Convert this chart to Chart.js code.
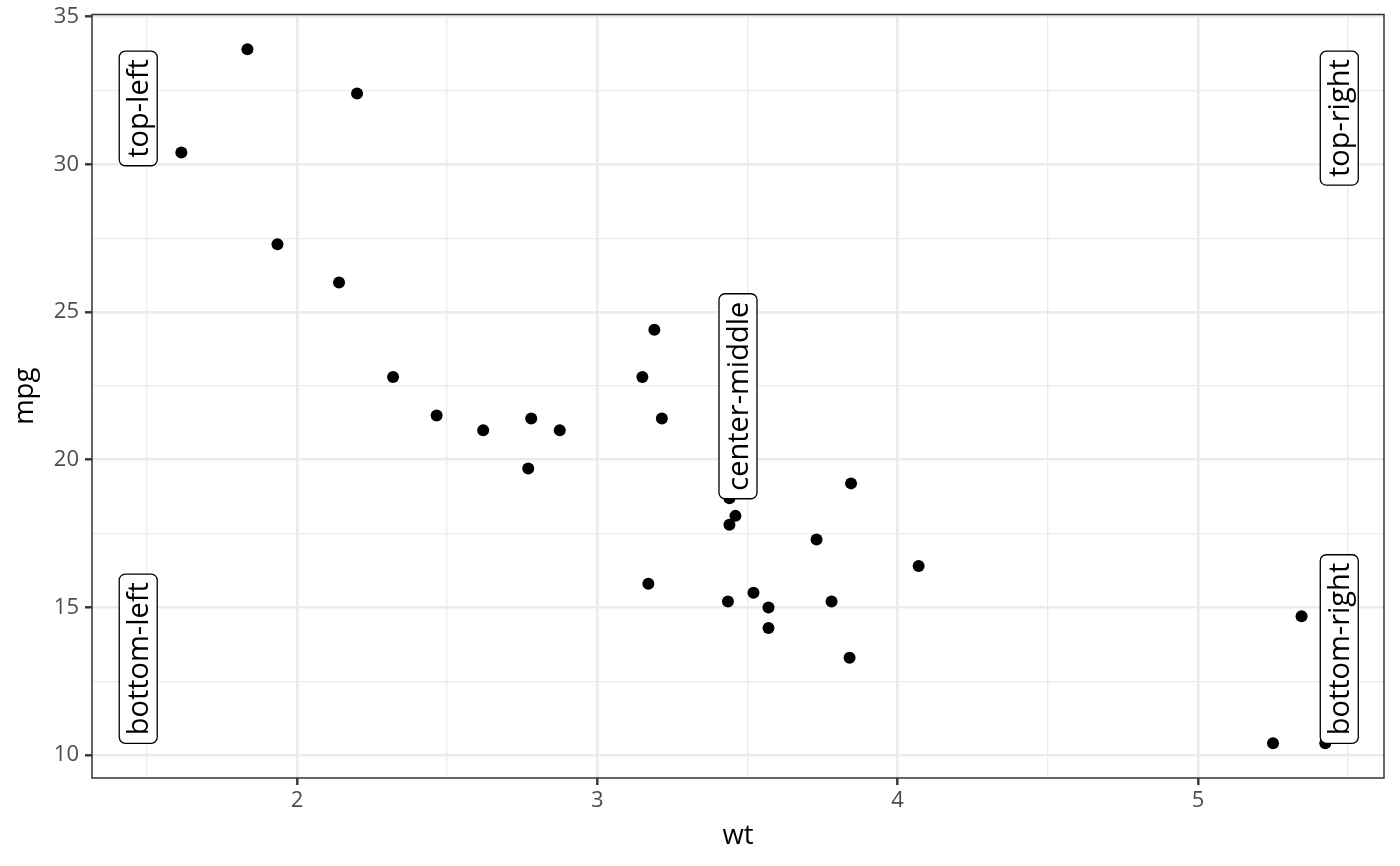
<!DOCTYPE html>
<html>
<head>
<meta charset="utf-8">
<script src="https://cdn.jsdelivr.net/npm/chart.js@4.4.1/dist/chart.umd.min.js"></script>
<style>
  html, body { margin: 0; padding: 0; background: #fff; }
</style>
</head>
<body>
<canvas id="chart" width="1400" height="866"></canvas>
<script>
// mtcars: weight (1000 lbs) and miles per gallon
const wt = [2.620, 2.875, 2.320, 3.215, 3.440, 3.460, 3.570, 3.190, 3.150, 3.440, 3.440,
            4.070, 3.730, 3.780, 5.250, 5.424, 5.345, 2.200, 1.615, 1.835, 2.465, 3.520,
            3.435, 3.840, 3.845, 1.935, 2.140, 1.513, 3.170, 2.770, 3.570, 2.780];
const mpg = [21.0, 21.0, 22.8, 21.4, 18.7, 18.1, 14.3, 24.4, 22.8, 19.2, 17.8,
             16.4, 17.3, 15.2, 10.4, 10.4, 14.7, 32.4, 30.4, 33.9, 21.5, 15.5,
             15.2, 13.3, 19.2, 27.3, 26.0, 30.4, 15.8, 19.7, 15.0, 21.4];

const xMajorTicks = [2, 3, 4, 5];
const xMinorTicks = [1.5, 2.5, 3.5, 4.5, 5.5];
const yMajorTicks = [10, 15, 20, 25, 30, 35];
const yMinorTicks = [12.5, 17.5, 22.5, 27.5, 32.5];

const labelTexts = ['top-left', 'top-right', 'bottom-left', 'bottom-right', 'center-middle'];
const labelH = ['left', 'right', 'left', 'right', 'center'];
const labelV = ['top', 'top', 'bottom', 'bottom', 'middle'];

// ggplot style 5% expansion
function expand(vals) {
    const lo = Math.min(...vals), hi = Math.max(...vals);
    const d = (hi - lo) * 0.05;
    return [lo - d, hi + d];
}
const [xMin, xMax] = expand(wt);
const [yMin, yMax] = expand(mpg);

function gridOpts(major) {
    return {
        color: '#ebebeb',
        lineWidth: c => major.includes(c.tick.value) ? 2.6 : 1.3,
        tickLength: 7,
        tickWidth: 2.4,
        tickColor: c => major.includes(c.tick.value) ? '#333333' : 'rgba(0,0,0,0)'
    };
}

const labelPlugin = {
    id: 'labels',
    afterDatasetsDraw(chart) {
        const { ctx, chartArea, scales: { x, y } } = chart;
        const xs = { left: Math.min(...wt), right: Math.max(...wt) };
        xs.center = (xs.left + xs.right) / 2;
        const ys = { bottom: Math.min(...mpg), top: Math.max(...mpg) };
        ys.middle = (ys.bottom + ys.top) / 2;

        ctx.save();
        ctx.font = '29px "Open Sans"';
        const thick = 38, pad = 8;
        labelTexts.forEach((text, i) => {
            const len = ctx.measureText(text).width + pad * 2;
            const px = x.getPixelForValue(xs[labelH[i]]);
            const py = y.getPixelForValue(ys[labelV[i]]);
            let left, top;
            if (labelH[i] === 'left') left = px + 6.5 - thick;
            else if (labelH[i] === 'right') left = px - 5;
            else left = px - thick / 2;
            if (labelV[i] === 'top') top = py + 2;
            else if (labelV[i] === 'bottom') top = py - len;
            else top = py - len / 2;

            ctx.beginPath();
            ctx.roundRect(left, top, thick, len, 6);
            ctx.fillStyle = '#ffffff';
            ctx.fill();
            ctx.lineWidth = 1.3;
            ctx.strokeStyle = '#000000';
            ctx.stroke();

            ctx.save();
            ctx.translate(left + thick / 2, top + len / 2);
            ctx.rotate(-Math.PI / 2);
            ctx.fillStyle = '#000000';
            ctx.textAlign = 'center';
            ctx.textBaseline = 'alphabetic';
            ctx.fillText(text, 0, 10);
            ctx.restore();
        });

        // panel border
        ctx.strokeStyle = '#333333';
        ctx.lineWidth = 1.5;
        ctx.strokeRect(chartArea.left, chartArea.top,
                       chartArea.right - chartArea.left, chartArea.bottom - chartArea.top);
        ctx.restore();
    }
};

const chart = new Chart(document.getElementById('chart').getContext('2d'), {
    type: 'scatter',
    data: {
        datasets: [{
            data: wt.map((w, i) => ({ x: w, y: mpg[i] })),
            backgroundColor: '#000000',
            borderWidth: 0,
            pointRadius: 6,
            pointHoverRadius: 6
        }]
    },
    options: {
        responsive: false,
        animation: false,
        events: [],
        layout: { padding: { left: 0, top: 14.5, right: 16, bottom: 0 } },
        plugins: { legend: { display: false }, tooltip: { enabled: false } },
        scales: {
            x: {
                type: 'linear',
                min: xMin,
                max: xMax,
                afterBuildTicks: s => { s.ticks = [...xMajorTicks, ...xMinorTicks].sort((a, b) => a - b).map(v => ({ value: v })); },
                afterFit: s => { s.height = 88; s.paddingLeft = 0; s.paddingRight = 0; },
                ticks: {
                    autoSkip: false,
                    maxRotation: 0,
                    padding: 3,
                    color: '#4d4d4d',
                    font: { family: '"Open Sans"', size: 22 },
                    callback: v => xMajorTicks.includes(v) ? String(v) : ''
                },
                grid: gridOpts(xMajorTicks),
                border: { display: false },
                title: {
                    display: true,
                    text: 'wt',
                    color: '#000000',
                    font: { family: '"Open Sans"', size: 27.5 },
                    padding: { top: 0, bottom: 13 }
                }
            },
            y: {
                type: 'linear',
                min: yMin,
                max: yMax,
                afterBuildTicks: s => { s.ticks = [...yMajorTicks, ...yMinorTicks].sort((a, b) => a - b).map(v => ({ value: v })); },
                afterFit: s => { s.width = 92; s.paddingTop = 0; s.paddingBottom = 0; },
                ticks: {
                    autoSkip: false,
                    padding: 6,
                    color: '#4d4d4d',
                    font: { family: '"Open Sans"', size: 22 },
                    callback: v => yMajorTicks.includes(v) ? String(v) : ''
                },
                grid: gridOpts(yMajorTicks),
                border: { display: false },
                title: {
                    display: true,
                    text: 'mpg',
                    color: '#000000',
                    font: { family: '"Open Sans"', size: 27.5 },
                    padding: { top: 9, bottom: 0 }
                }
            }
        }
    },
    plugins: [labelPlugin]
});
</script>
</body>
</html>
